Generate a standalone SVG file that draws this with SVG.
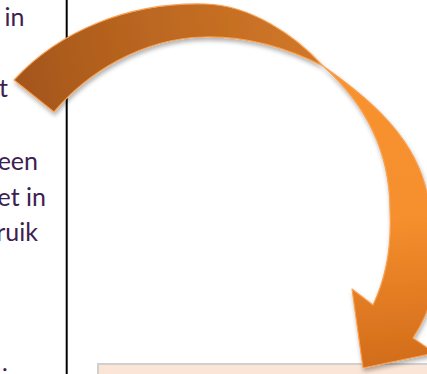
<svg xmlns="http://www.w3.org/2000/svg" width="427" height="374" viewBox="0 0 427 374">
  <style>
    .txt { font-family: "Lato", "Open Sans", sans-serif; font-size: 25px; fill: #3d2150; text-anchor: end; }
    .arrowpart { stroke: #f9a152; stroke-width: 1.2; stroke-linejoin: round; }
  </style>
  <defs>
    <linearGradient id="gLeft" gradientUnits="userSpaceOnUse" x1="14" y1="100" x2="323" y2="40">
      <stop offset="0" stop-color="#a3551a"/>
      <stop offset="0.5" stop-color="#bd6821"/>
      <stop offset="1" stop-color="#d27828"/>
    </linearGradient>
    <linearGradient id="gRight" gradientUnits="userSpaceOnUse" x1="360" y1="70" x2="380" y2="368">
      <stop offset="0" stop-color="#f7922f"/>
      <stop offset="0.5" stop-color="#f68f2d"/>
      <stop offset="0.78" stop-color="#e27b22"/>
      <stop offset="1" stop-color="#d16c1c"/>
    </linearGradient>
    <filter id="shadow" x="-10%" y="-10%" width="120%" height="120%">
      <feDropShadow dx="1" dy="3" stdDeviation="2" flood-color="#000" flood-opacity="0.3"/>
    </filter>
  </defs>

  <rect width="427" height="374" fill="#ffffff"/>

  <g id="text-column">
    <text class="txt" x="24.5" y="26">in</text>
    <text class="txt" x="8" y="97">t</text>
    <text class="txt" x="38" y="170">een</text>
    <text class="txt" x="46" y="206">et in</text>
    <text class="txt" x="38" y="241">ruik</text>
    <text class="txt" x="8" y="381">:</text>
  </g>

  <g id="divider">
    <line x1="66.7" y1="0" x2="66.7" y2="374" stroke="#000" stroke-width="2"/>
  </g>

  <g id="box">
    <rect x="98" y="364" width="340" height="30" fill="#fbe5d6" stroke="#d2d0ce" stroke-width="2"/>
  </g>

  <g id="connectors" filter="url(#shadow)">
    <path class="arrowpart" fill="url(#gLeft)" d="M14,80 C60,30 130,2 205,4 C250,5 295,35 323,66 C295,52 255,36 205,37 C140,38 85,75 54,112 Z"/>
    <path class="arrowpart" fill="url(#gRight)" d="M323,66 C360,92 410,130 425,185 C440,240 445,290 413,338 L435,353 L363,368 L352,289 L373,305 C385,280 392,250 390,210 C390,170 378,115 323,66 Z"/>
  </g>
</svg>
